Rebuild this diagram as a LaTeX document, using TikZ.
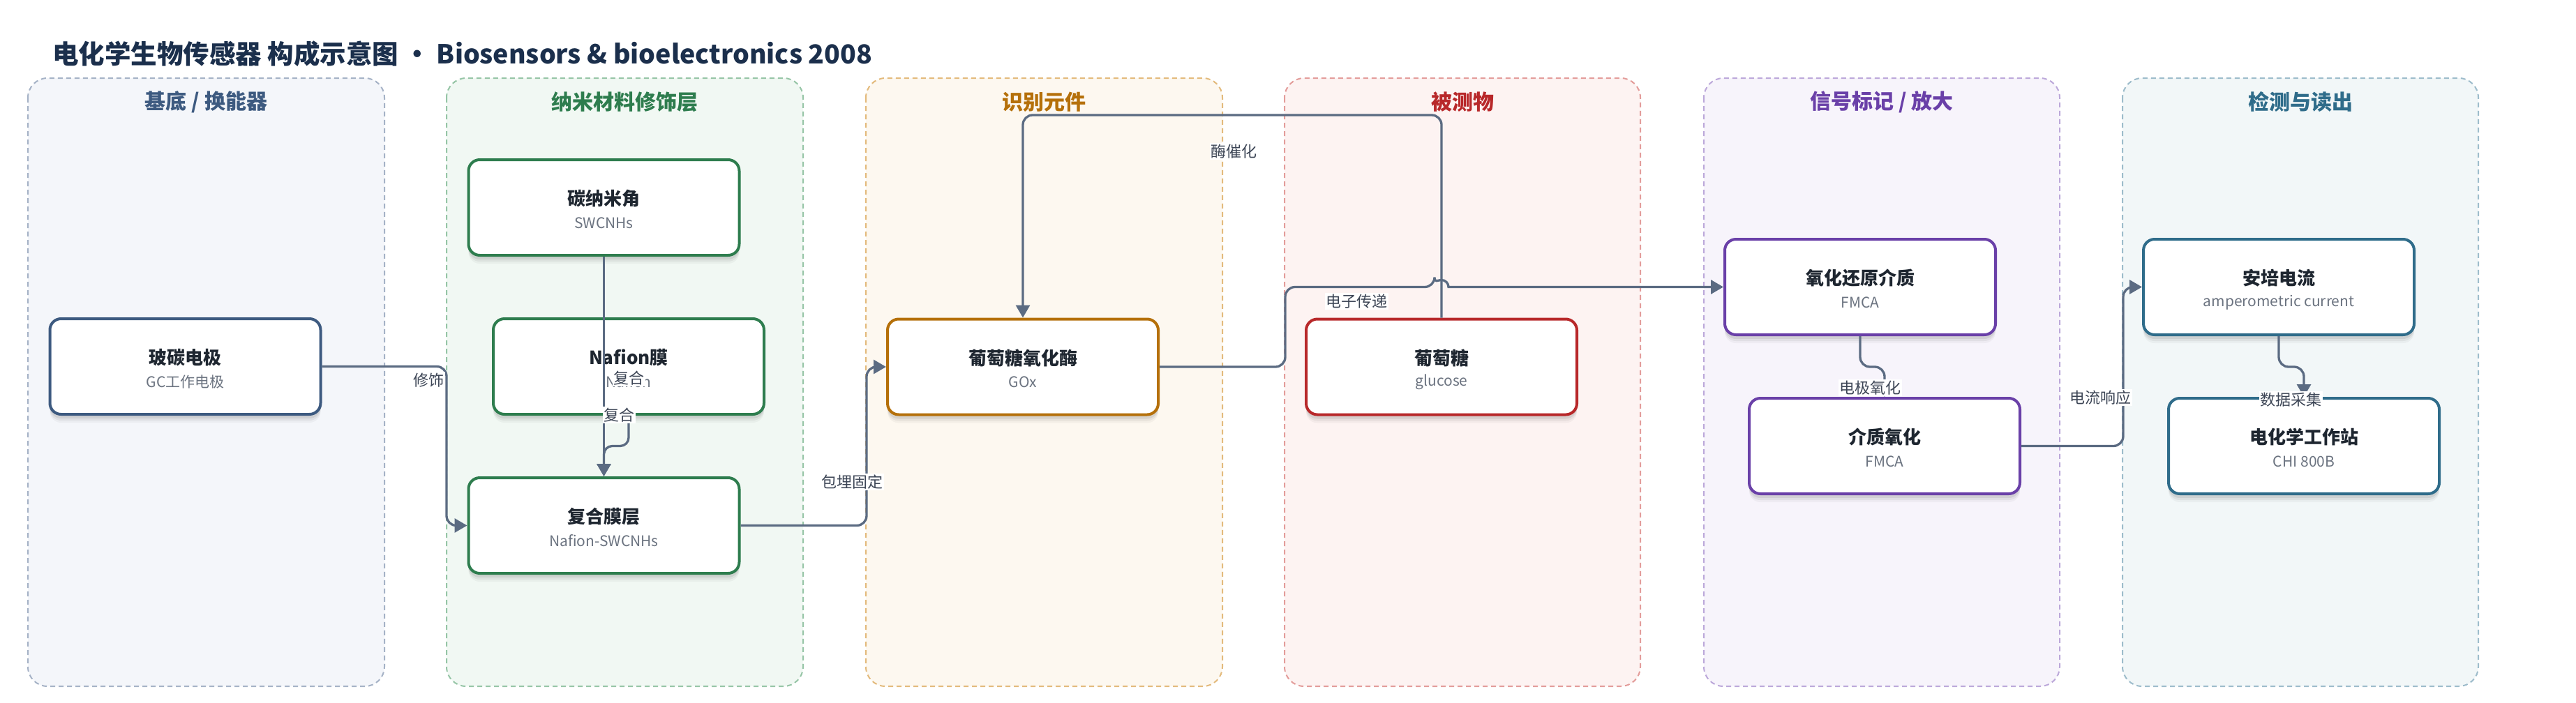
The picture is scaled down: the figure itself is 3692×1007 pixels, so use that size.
\documentclass[tikz,border=0pt]{standalone}
\usepackage{fontspec}
\setmainfont{Noto Sans CJK SC}
\usetikzlibrary{arrows.meta,shadows}

\definecolor{titlec}{HTML}{1B2F4C}
\definecolor{edgec}{HTML}{5B6B82}
\definecolor{lblc}{HTML}{3C4555}
\definecolor{subc}{HTML}{6B7380}
\definecolor{boxtxt}{HTML}{1E2630}
% lanes: fill, border, title/node colour
\definecolor{laAf}{HTML}{F4F6FA}\definecolor{laAb}{HTML}{A5B2C6}\definecolor{laAc}{HTML}{3D5A80}
\definecolor{laBf}{HTML}{F1F8F3}\definecolor{laBb}{HTML}{96C5A6}\definecolor{laBc}{HTML}{2E7D4E}
\definecolor{laCf}{HTML}{FDF8F0}\definecolor{laCb}{HTML}{E3BA7C}\definecolor{laCc}{HTML}{B5700A}
\definecolor{laDf}{HTML}{FDF3F2}\definecolor{laDb}{HTML}{E39C9A}\definecolor{laDc}{HTML}{B8282A}
\definecolor{laEf}{HTML}{F7F4FB}\definecolor{laEb}{HTML}{BCA8DA}\definecolor{laEc}{HTML}{6A40A8}
\definecolor{laFf}{HTML}{F2F7F8}\definecolor{laFb}{HTML}{9DBCCB}\definecolor{laFc}{HTML}{2F6C8A}

\tikzset{
  lanebox/.style 2 args={draw=#2, fill=#1, dash pattern=on 7pt off 5pt, line width=2pt, rounded corners=28pt},
  lanetitle/.style={text=#1, font=\fontsize{30}{34}\selectfont\bfseries, inner sep=0pt},
  softshadow/.style={
    general shadow={fill=black, opacity=0.035, shadow xshift=0pt, shadow yshift=-12pt},
    general shadow={fill=black, opacity=0.05, shadow xshift=0pt, shadow yshift=-9pt},
    general shadow={fill=black, opacity=0.07, shadow xshift=0pt, shadow yshift=-6pt}},
  cbox/.style={draw=#1, line width=4pt, fill=white, rounded corners=16pt,
    minimum width=388pt, minimum height=137pt, inner sep=0pt, softshadow},
  boxtitle/.style={text=boxtxt, font=\fontsize{26}{30}\selectfont\bfseries, inner sep=0pt},
  boxsub/.style={text=subc, font=\fontsize{21}{25}\selectfont, inner sep=0pt},
  conn/.style={draw=edgec, line width=3.3pt, rounded corners=14pt, -{Triangle[length=18pt,width=20pt]}},
  lbl/.style={fill=white, text=lblc, font=\fontsize{22}{26}\selectfont, inner sep=1.5pt},
}

\newcommand\mkbox[6]{%
  \node[cbox=#4] (#1) at (#2,#3) {};
  \node[boxtitle] (#1-t) at ([yshift=13pt]#1.center) {#5};
  \node[boxsub] (#1-s) at ([yshift=-22pt]#1.center) {#6};
}

\begin{document}
\begin{tikzpicture}[x=1pt,y=-1pt]
\fill[white] (0,0) rectangle (3692,1007);
\useasboundingbox (0,0) rectangle (3692,1007);

\node[anchor=west, text=titlec, font=\fontsize{37.5}{42}\selectfont\bfseries, inner sep=0pt] (title) at (75,77)
  {电化学生物传感器 构成示意图 · Biosensors \& bioelectronics 2008};

% lanes
\draw[lanebox={laAf}{laAb}] (40,112) rectangle (551,984);
\draw[lanebox={laBf}{laBb}] (640,112) rectangle (1151,984);
\draw[lanebox={laCf}{laCb}] (1241,112) rectangle (1752,984);
\draw[lanebox={laDf}{laDb}] (1841,112) rectangle (2351,984);
\draw[lanebox={laEf}{laEb}] (2442,112) rectangle (2952,984);
\draw[lanebox={laFf}{laFb}] (3042,112) rectangle (3552,984);

\node[lanetitle=laAc] (lt1) at (295.5,146) {基底 / 换能器};
\node[lanetitle=laBc] (lt2) at (895.5,146) {纳米材料修饰层};
\node[lanetitle=laCc] (lt3) at (1496.5,146) {识别元件};
\node[lanetitle=laDc] (lt4) at (2096,146) {被测物};
\node[lanetitle=laEc] (lt5) at (2697,146) {信号标记 / 放大};
\node[lanetitle=laFc] (lt6) at (3297,146) {检测与读出};

% boxes
\mkbox{n1}{265.5}{525.5}{laAc}{玻碳电极}{GC工作电极}
\mkbox{n2}{865.5}{297.5}{laBc}{碳纳米角}{SWCNHs}
\mkbox{n3}{901}{525.5}{laBc}{Nafion膜}{Nafion}
\mkbox{n4}{865.5}{753.5}{laBc}{复合膜层}{Nafion-SWCNHs}
\mkbox{n5}{1466}{526}{laCc}{葡萄糖氧化酶}{GOx}
\mkbox{n6}{2066}{526}{laDc}{葡萄糖}{glucose}
\mkbox{n7}{2666}{411.5}{laEc}{氧化还原介质}{FMCA}
\mkbox{n8}{2701}{639.5}{laEc}{介质氧化}{FMCA}
\mkbox{n9}{3266}{411.5}{laFc}{安培电流}{amperometric current}
\mkbox{n10}{3302}{639.5}{laFc}{电化学工作站}{CHI 800B}

% connectors
\draw[conn] (n1.east) -- (640,525.5) |- (n4.west);
\draw[conn] (n2.south) -- (n4.north);
\draw[conn, rounded corners=12pt] (n3.south) -- (901,639.5) -| (n4.north);
\draw[conn] (n4.east) -- (1242,753.5) |- (n5.west);
\draw[conn] (n6.north) -- (2066,165) -| (n5.north);
\draw[conn] (n5.east) -- (1842,526) |- (2056,411.5) [sharp corners] arc(180:360:10) -- (n7.west);
\draw[conn] (n7.south) -- (2666,526) -| (n8.north);
\draw[conn] (n8.east) -- (3043,639.5) |- (n9.west);
\draw[conn] (n9.south) -- (3266,526) -| (n10.north);

% labels
\node[lbl] (l1) at (614,545) {修饰};
\node[lbl] (l2) at (901,542) {复合};
\node[lbl] (l3) at (887,595) {复合};
\node[lbl] (l4) at (1221,691) {包埋固定};
\node[lbl] (l5) at (1768,217) {酶催化};
\node[lbl] (l6) at (1944,432) {电子传递};
\node[lbl] (l7) at (2680,556) {电极氧化};
\node[lbl] (l8) at (3010,570) {电流响应};
\node[lbl] (l9) at (3283,573) {数据采集};
\end{tikzpicture}
\end{document}
